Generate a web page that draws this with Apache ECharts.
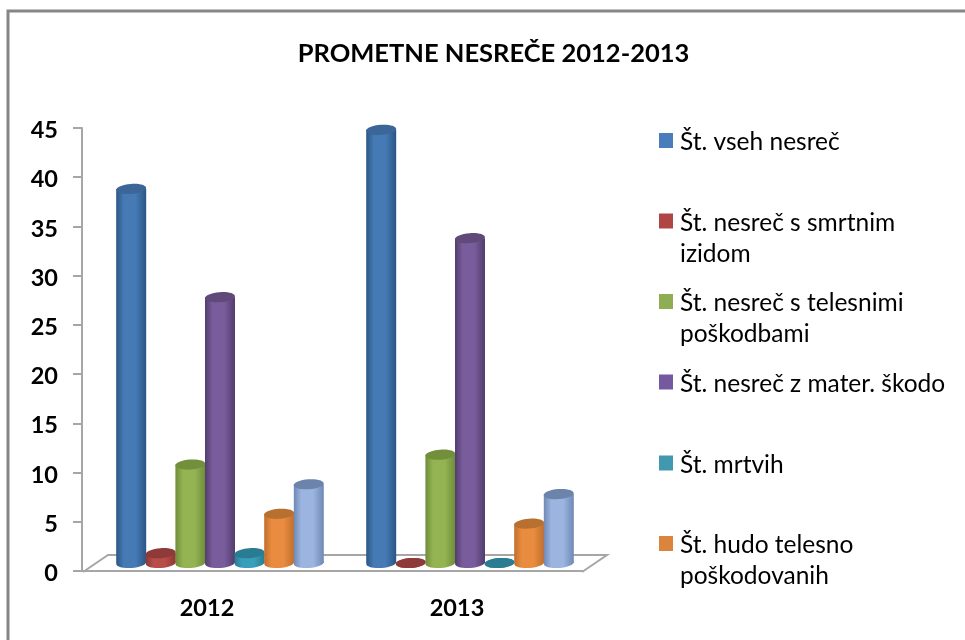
<!DOCTYPE html>
<html>
<head>
<meta charset="utf-8">
<script src="https://cdn.jsdelivr.net/npm/echarts@6/dist/echarts.min.js"></script>
<style>
  html, body { margin: 0; padding: 0; background: #fff; }
  #chart { width: 965px; height: 640px; }
</style>
</head>
<body>
<div id="chart"></div>
<script>
const years = ["2012", "2013"];
const vsehNesrec = [38, 44];
const smrtnim = [1, 0];
const telesnimi = [10, 11];
const materSkodo = [27, 33];
const mrtvih = [1, 0];
const hudoTelesno = [5, 4];
const lazjeTelesno = [8, 7];   // no legend entry visible in the picture

const series_names = [
  "Št. vseh nesreč",
  "Št. nesreč s smrtnim\nizidom",
  "Št. nesreč s telesnimi\npoškodbami",
  "Št. nesreč z mater. škodo",
  "Št. mrtvih",
  "Št. hudo telesno\npoškodovanih",
  "Št. lažje telesno poškodovanih"
];
const series_values = [vsehNesrec, smrtnim, telesnimi, materSkodo, mrtvih, hudoTelesno, lazjeTelesno];

// body centre, body edge, top cap
const cylinder_colors = [
  ["#457ab5", "#2b5684", "#3b6697"],
  ["#b84c49", "#8c3836", "#8e3a38"],
  ["#94b352", "#6f8c3a", "#728f3c"],
  ["#795c9c", "#513d6c", "#5f4a7a"],
  ["#389fba", "#2a7c92", "#2a7c92"],
  ["#e98c40", "#c06f2c", "#b7702f"],
  ["#9bb5e0", "#6f88b5", "#6c83ab"]
];
const legend_colors = ["#4a7ebb", "#b04644", "#8fae53", "#7459a0", "#4198af", "#db843d", "#93a9cf"];
const legend_centers = [142.5, 223, 303.5, 384, 465, 545.5];

const BAR_STEP = 29.6, BAR_W = 30, CAP_RY = 5, CAP_TILT = 0.07;
const DEPTH_X = 13, DEPTH_Y = 8, FLOOR_DX = 25, FLOOR_DY = 17;
const AXIS_GREY = "#a6a6a6";
const FONT = "Lato, 'Open Sans', sans-serif";

function cylinder(series_index) {
  return function (params, api) {
    const [cx0, y0] = api.coord([api.value(0), 0]);
    const top_y = api.coord([api.value(0), api.value(1)])[1] - DEPTH_Y;
    const base_y = y0 - DEPTH_Y;
    const cx = cx0 + DEPTH_X + (series_index - 3) * BAR_STEP;
    const rx = BAR_W / 2;
    const [mid, edge, cap] = cylinder_colors[series_index];
    const body = {
      type: "linear", x: 0, y: 0, x2: 1, y2: 0,
      colorStops: [
        { offset: 0, color: edge }, { offset: 0.25, color: mid },
        { offset: 0.65, color: mid }, { offset: 1, color: edge }
      ]
    };
    const capAt = (cy, fill) => ({
      type: "ellipse", shape: { cx, cy, rx, ry: CAP_RY }, style: { fill },
      rotation: CAP_TILT, originX: cx, originY: cy
    });
    return {
      type: "group",
      children: [
        capAt(base_y, body),
        { type: "rect", shape: { x: cx - rx, y: top_y, width: BAR_W, height: base_y - top_y }, style: { fill: body } },
        capAt(top_y, cap)
      ]
    };
  };
}

// back and side edges of the floor, from the grid box
function floorEdges(params) {
  const { x, y, width, height } = params.coordSys;
  const left = x + 1, bottom = y + height + 1, right = x + width;
  return {
    type: "polyline",
    shape: { points: [[left, bottom], [left + FLOOR_DX, bottom - FLOOR_DY], [right + FLOOR_DX, bottom - FLOOR_DY], [right, bottom]] },
    style: { fill: "none", stroke: AXIS_GREY, lineWidth: 2 }
  };
}

const chart = echarts.init(document.getElementById("chart"), null, { renderer: "canvas" });

const option = {
  animation: false,
  backgroundColor: "#fff",
  title: {
    text: "PROMETNE NESREČE 2012-2013", left: 488.5, top: 36, textAlign: "center",
    textStyle: { fontFamily: FONT, fontSize: 25.5, fontWeight: "bold", color: "#000" }
  },
  graphic: [{
    type: "polyline", silent: true,
    shape: { points: [[8, 640], [8, 11], [965, 11]] },
    style: { fill: "none", stroke: "#868686", lineWidth: 3 }
  }],
  grid: { left: 82, top: 128, width: 500, height: 443, containLabel: false },
  legend: legend_centers.map((center, i) => {
    const wrapped = series_names[i].includes("\n");
    return {
      data: [series_names[i]], left: 659, top: center - (wrapped ? 46.5 : 15.5), orient: "vertical", padding: 0,
      // empty sub-path at the bottom of the icon lifts the square 2px above the text centre
      icon: "path://M0 0h14v15h-14z M0 19h0", itemWidth: 14, itemHeight: 19, itemGap: 0, selectedMode: false,
      // a blank first line keeps the marker level with the first line of text
      formatter: (name) => (wrapped ? "\n" + name : name),
      textStyle: { fontFamily: FONT, fontSize: 24.5, color: "#000", lineHeight: 31, padding: [0, 0, 0, 2] }
    };
  }),
  xAxis: {
    type: "category", data: years,
    axisLine: { lineStyle: { color: AXIS_GREY, width: 2 } },
    axisTick: { length: 8, lineStyle: { color: AXIS_GREY, width: 2 } },
    axisLabel: { fontFamily: FONT, fontSize: 23.5, fontWeight: "bold", color: "#000", margin: 25 }
  },
  yAxis: {
    type: "value", min: 0, max: 45, interval: 5,
    axisLine: { show: true, lineStyle: { color: AXIS_GREY, width: 2 } },
    axisTick: { show: true, length: 9, lineStyle: { color: AXIS_GREY, width: 2 } },
    axisLabel: {
      formatter: "{v|{value}}", margin: 24,
      rich: { v: { fontFamily: FONT, fontSize: 23.5, fontWeight: "bold", color: "#000", padding: [5, 0, 0, 0] } }
    },
    splitLine: { show: false }
  },
  series: [
    { type: "custom", name: "floor", coordinateSystem: "cartesian2d", data: [[0, 0]], renderItem: floorEdges, clip: false, z: 1 }
  ].concat(series_names.map((name, i) => ({
    type: "custom",
    name,
    coordinateSystem: "cartesian2d",
    data: series_values[i].map((v, k) => [k, v]),
    encode: { x: 0, y: 1 },
    renderItem: cylinder(i),
    clip: false,
    itemStyle: { color: legend_colors[i] },
    z: 2 + i
  })))
};
chart.setOption(option);
</script>
</body>
</html>
